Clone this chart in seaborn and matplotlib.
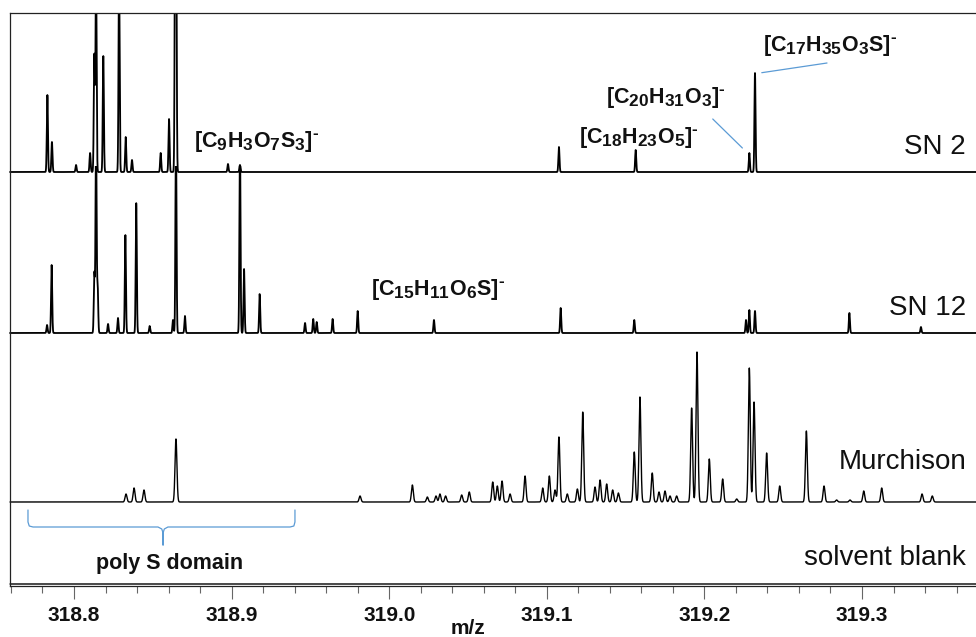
import numpy as np
import pandas as pd
import matplotlib
matplotlib.use("Agg")
import matplotlib.pyplot as plt
from matplotlib.patches import Rectangle
from matplotlib.ticker import MultipleLocator, FormatStrFormatter
import seaborn as sns

try:
    import matplotlib._mathtext as _mt
    _mt.SHRINK_FACTOR = 0.8
except Exception:
    pass

# ---------------- data (m/z, relative intensity) ----------------
sn2_mz = [318.7831, 318.7860, 318.8013, 318.8102, 318.8129, 318.8140, 318.8186, 318.8286,
          318.8328, 318.8368, 318.8550, 318.8603, 318.8642, 318.8645, 318.8648, 318.8977,
          318.9053, 319.1077, 319.1564, 319.2285, 319.2321]
sn2_int = [77, 30, 7, 19, 117, 200, 116, 200,
           35, 12, 19, 53, 200, 200, 200, 8,
           7, 25, 22, 19, 99]

sn12_mz = [318.7829, 318.7858, 318.8129, 318.8140, 318.8150, 318.8216, 318.8279, 318.8326,
           318.8395, 318.8480, 318.8628, 318.8647, 318.8704, 318.9053, 318.9079, 318.9178,
           318.9466, 318.9518, 318.9540, 318.9641, 318.9800, 319.0284, 319.1088, 319.1555,
           319.2264, 319.2285, 319.2321, 319.2920, 319.3374]
sn12_int = [8, 68, 60, 200, 47, 9, 15, 98,
            130, 7, 13, 200, 17, 200, 64, 39,
            10, 14, 11, 14, 22, 13, 25, 13,
            13, 23, 22, 20, 6]

murch_mz = [318.8330, 318.8381, 318.8444, 318.8647, 318.9815, 319.0147, 319.0242, 319.0297,
            319.0322, 319.0358, 319.0460, 319.0508, 319.0657, 319.0686, 319.0716, 319.0767,
            319.0862, 319.0974, 319.1016, 319.1052, 319.1077, 319.1130, 319.1194, 319.1228,
            319.1306, 319.1338, 319.1380, 319.1418, 319.1454, 319.1555, 319.1591, 319.1669,
            319.1712, 319.1750, 319.1782, 319.1824, 319.1919, 319.1953, 319.2031, 319.2116,
            319.2205, 319.2285, 319.2315, 319.2395, 319.2478, 319.2647, 319.2759, 319.2839,
            319.2924, 319.3011, 319.3125, 319.3381, 319.3446]
murch_int = [8, 14, 12, 63, 6, 17, 5, 6,
             8, 6, 7, 10, 20, 16, 21, 8,
             26, 14, 26, 12, 65, 8, 13, 90,
             15, 22, 18, 12, 9, 50, 105, 29,
             10, 11, 6, 6, 94, 150, 43, 23,
             3, 134, 100, 49, 16, 71, 16, 2,
             2, 11, 14, 8, 6]

blank_mz = []
blank_int = []

trace_names = ["SN 2", "SN 12", "Murchison", "solvent blank"]
formula_labels = ["$[C_{17}H_{35}O_{3}S]^{\u2010}$", "$[C_{20}H_{31}O_{3}]^{\u2010}$",
                  "$[C_{18}H_{23}O_{5}]^{\u2010}$", "$[C_{9}H_{3}O_{7}S_{3}]^{\u2010}$",
                  "$[C_{15}H_{11}O_{6}S]^{\u2010}$"]
major_ticks = [318.8, 318.9, 319.0, 319.1, 319.2, 319.3]

# ---------------- style ----------------
sns.set_style("white")
plt.rcParams["font.family"] = ["Liberation Sans", "DejaVu Sans"]
plt.rcParams["mathtext.fontset"] = "custom"
plt.rcParams["mathtext.bf"] = "Liberation Sans:bold"
plt.rcParams["mathtext.rm"] = "Liberation Sans:bold"
plt.rcParams["mathtext.it"] = "Liberation Sans:bold"
plt.rcParams["mathtext.default"] = "bf"

W, H = 976, 637
fig = plt.figure(figsize=(W / 100, H / 100), dpi=100)
ax = fig.add_axes([10 / W, 1 - 586 / H, (986 - 10) / W, (586 - 13) / H])
ax.set_xlim(318.75939, 319.37868)
ax.set_ylim(586, 13)  # vertical axis in layout units, top-down

grid = np.linspace(318.7594, 319.3787, 14000)


def profile(mz, inten, sigma):
    y = np.zeros_like(grid)
    for c, h in zip(mz, inten):
        y += h * np.exp(-0.5 * ((grid - c) / sigma) ** 2)
    return y


traces = [
    (sn2_mz, sn2_int, 0.00035, 172, 13, 186, 1.3),
    (sn12_mz, sn12_int, 0.00035, 333, 166, 346, 1.3),
    (murch_mz, murch_int, 0.00060, 502, 340, 515, 1.0),
    (blank_mz, blank_int, 0.00035, 584, 520, 592, 1.0),
]

for mz, inten, sig, base, top, bottom, lw in traces:
    yy = base - profile(mz, inten, sig)
    df = pd.DataFrame({"mz": grid, "y": yy})
    n0 = len(ax.lines)
    sns.lineplot(data=df, x="mz", y="y", ax=ax, color="black", lw=lw,
                 estimator=None, sort=False)
    rect = Rectangle((318.7, top), 1.0, bottom - top, transform=ax.transData)
    for ln in ax.lines[n0:]:
        ln.set_clip_path(rect)

# trace names
name_y = [147, 308, 462, 558]
for nm, yv in zip(trace_names, name_y):
    ax.text(319.366, yv, nm, ha="right", va="center", fontsize=20, color="#111111")

# formula labels
lab_pos = [(319.2797, 45), (319.1756, 97), (319.1585, 137), (318.9161, 141), (319.0310, 289)]
for lab, (xv, yv) in zip(formula_labels, lab_pos):
    ax.text(xv, yv, lab, ha="center", va="center", fontsize=15.5, color="#111111")

blue = "#5B9BD5"
ax.plot([319.2364, 319.2778], [72.7, 63], color=blue, lw=0.9)
ax.plot([319.2053, 319.2241], [119, 148], color=blue, lw=0.9)

# poly S bracket
bx = [318.7708, 318.7708, 318.7716, 318.7740, 318.8533, 318.8557, 318.8565, 318.8565,
      318.8565, 318.8573, 318.8596, 318.9371, 318.9395, 318.9402, 318.9402]
by = [510, 522, 526, 527, 527, 529, 533, 545,
      533, 529, 527, 527, 526, 522, 510]
ax.plot(bx, by, color=blue, lw=0.9)
ax.text(318.8609, 563, "poly S domain", ha="center", va="center", fontsize=15.5,
        fontweight="bold", color="#111111")

ax.text(319.0500, 628, "m/z", ha="center", va="center", fontsize=15,
        fontweight="bold", color="#111111", clip_on=False)

# axes styling
for side in ["top", "left", "bottom", "right"]:
    ax.spines[side].set_color("#222222")
    ax.spines[side].set_linewidth(0.9)
ax.set_yticks([])
ax.xaxis.set_major_locator(MultipleLocator(0.1))
ax.xaxis.set_minor_locator(MultipleLocator(0.02))
ax.xaxis.set_major_formatter(FormatStrFormatter("%.1f"))
ax.tick_params(axis="x", which="major", direction="out", length=9.5, width=0.8,
               color="#666666", labelsize=15, pad=5, bottom=True)
ax.tick_params(axis="x", which="minor", direction="out", length=5, width=0.8,
               color="#666666", bottom=True)
for t in ax.get_xticklabels():
    t.set_fontweight("bold")
    t.set_color("#111111")
ax.set_xlabel("")
ax.set_ylabel("")

fig.savefig("out.png", dpi=100)
